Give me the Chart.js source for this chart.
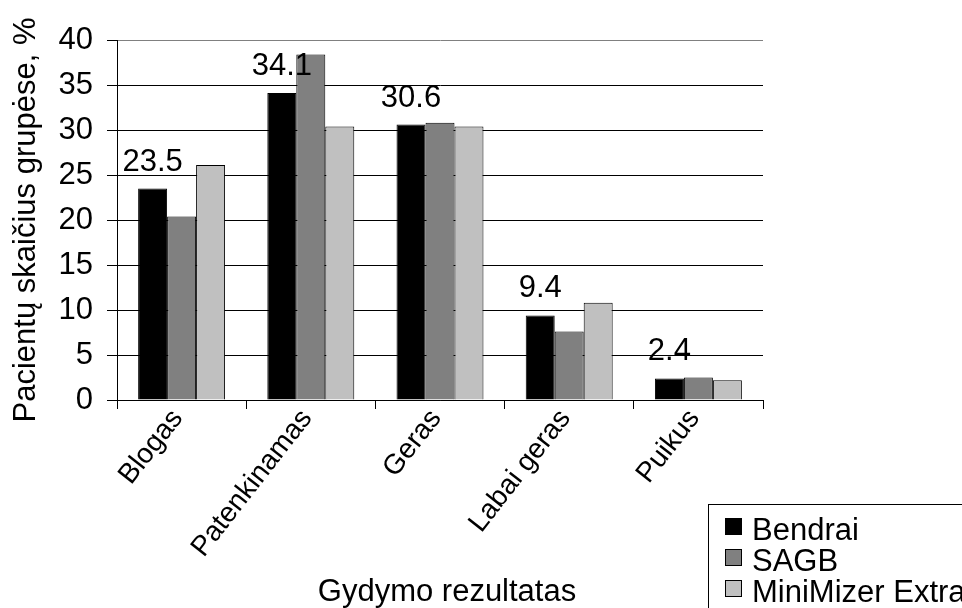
<!DOCTYPE html>
<html>
<head>
<meta charset="utf-8">
<script src="https://cdn.jsdelivr.net/npm/chart.js@4.4.1/dist/chart.umd.min.js"></script>
<style>
  html, body { margin: 0; padding: 0; background: #fff; }
  #wrap { width: 962px; height: 608px; position: relative; }
</style>
</head>
<body>
<div id="wrap"><canvas id="c" width="962" height="608"></canvas></div>
<script>
// Gydymo rezultatų kategorijos
const categories = ['Blogas', 'Patenkinamas', 'Geras', 'Labai geras', 'Puikus'];
// Pacientų dalis (%) kiekvienoje grupėje
const bendrai   = [23.5, 34.1, 30.6, 9.4, 2.4];
const sagb      = [20.4, 38.4, 30.8, 7.6, 2.5];
const minimizer = [26.1, 30.4, 30.4, 10.8, 2.2];
const seriesNames = ['Bendrai', 'SAGB', 'MiniMizer Extra'];
const yTicks = [0, 5, 10, 15, 20, 25, 30, 35, 40];

const FONT = "'Liberation Sans', Arial, sans-serif";
const FSIZE = 31;

// Bendrai reikšmės virš juodų stulpelių
const valueLabels = {
  id: 'valueLabels',
  afterDatasetsDraw(chart) {
    const ctx = chart.ctx;
    const meta = chart.getDatasetMeta(0);
    ctx.save();
    ctx.font = FSIZE + 'px ' + FONT;
    ctx.fillStyle = '#000';
    ctx.textAlign = 'center';
    ctx.textBaseline = 'alphabetic';
    meta.data.forEach((bar, i) => {
      ctx.fillText(bendrai[i].toFixed(1), bar.x, bar.y - 18);
    });
    ctx.restore();
  }
};

// X ašies pavadinimas
const xTitle = {
  id: 'xTitle',
  afterDraw(chart) {
    const ctx = chart.ctx;
    ctx.save();
    ctx.font = FSIZE + 'px ' + FONT;
    ctx.fillStyle = '#000';
    ctx.textAlign = 'center';
    ctx.textBaseline = 'alphabetic';
    ctx.fillText('Gydymo rezultatas', 447, 601);
    ctx.restore();
  }
};

// Legenda rėmelyje apačioje dešinėje
const boxLegend = {
  id: 'boxLegend',
  afterDraw(chart) {
    const ctx = chart.ctx;
    ctx.save();
    ctx.strokeStyle = '#000';
    ctx.lineWidth = 1;
    ctx.strokeRect(708.5, 504.5, 300, 140);
    ctx.font = FSIZE + 'px ' + FONT;
    ctx.textBaseline = 'alphabetic';
    ctx.textAlign = 'left';
    chart.data.datasets.forEach((ds, i) => {
      const base = 540 + i * 31;
      const top = base - 22;
      ctx.fillStyle = ds.backgroundColor;
      ctx.fillRect(725, top, 17, 17);
      ctx.strokeRect(725.5, top + 0.5, 16, 16);
      ctx.fillStyle = '#000';
      ctx.fillText(ds.label, 752, base);
    });
    ctx.restore();
  }
};

new Chart(document.getElementById('c'), {
  type: 'bar',
  data: {
    labels: categories,
    datasets: [
      { label: seriesNames[0], data: bendrai,   backgroundColor: '#000000' },
      { label: seriesNames[1], data: sagb,      backgroundColor: '#808080' },
      { label: seriesNames[2], data: minimizer, backgroundColor: '#c0c0c0' }
    ].map(d => Object.assign(d, { borderColor: '#000', borderWidth: 1, borderSkipped: 'bottom',
                                  categoryPercentage: 0.673, barPercentage: 1.0 }))
  },
  options: {
    responsive: false,
    animation: false,
    layout: { padding: { top: 40, right: 199, left: 0, bottom: 0 } },
    plugins: {
      legend: { display: false },
      tooltip: { enabled: false },
      title: { display: false }
    },
    scales: {
      x: {
        grid: {
          offset: true,
          drawOnChartArea: true,
          color: ctx => (ctx.index === categories.length ? '#808080' : 'rgba(0,0,0,0)'),
          tickColor: '#000',
          tickLength: 9,
          lineWidth: 1
        },
        border: { color: '#000', width: 1 },
        ticks: {
          color: '#000',
          font: { family: FONT, size: 28 },
          minRotation: 52,
          maxRotation: 52,
          autoSkip: false,
          padding: -6,
          labelOffset: -4
        },
        afterFit(s) { s.height = 208; }
      },
      y: {
        min: 0,
        max: 40,
        afterBuildTicks(s) { s.ticks = yTicks.map(v => ({ value: v })); },
        grid: {
          color: ctx => (ctx.tick && ctx.tick.value === 40 ? '#808080' : '#000'),
          tickColor: '#000',
          tickLength: 10,
          lineWidth: 1
        },
        border: { color: '#000', width: 1 },
        ticks: {
          color: '#000',
          font: { family: FONT, size: FSIZE },
          padding: 14
        },
        title: {
          display: true,
          text: 'Pacientų skaičius grupėse, %',
          color: '#000',
          font: { family: FONT, size: FSIZE },
          padding: { top: 8, bottom: 0 }
        },
        afterFit(s) { s.width = 117; }
      }
    }
  },
  plugins: [valueLabels, xTitle, boxLegend]
});
</script>
</body>
</html>
